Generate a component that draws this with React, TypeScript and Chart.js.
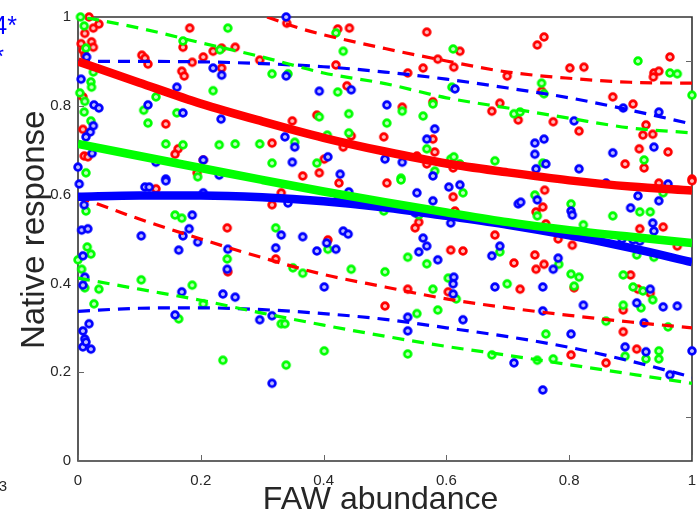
import React, { useEffect, useRef } from 'react';
import { Chart, registerables } from 'chart.js';

Chart.register(...registerables);

// ---------- axes ----------
const xTicks = [0, 0.2, 0.4, 0.6, 0.8, 1];
const xTickLabels = ['0', '0.2', '0.4', '0.6', '0.8', '1'];
const yTicks = [0, 0.2, 0.4, 0.6, 0.8, 1];
const yTickLabels = ['0', '0.2', '0.4', '0.6', '0.8', '1'];
const rightAxisTicks = [0.1, 0.9];
const xTitle = 'FAW abundance';
const yTitle = 'Native response';
const cutTextTop = ['4*', '*'];
const cutTextBottom = '3';

// ---------- fitted curves ----------
const fitX = [0, 0.1, 0.2, 0.3, 0.4, 0.5, 0.6, 0.7, 0.8, 0.9, 1];
const redFit = [0.9, 0.852, 0.805, 0.765, 0.728, 0.697, 0.67, 0.65, 0.632, 0.618, 0.609];
const greenFit = [0.714, 0.687, 0.66, 0.633, 0.607, 0.583, 0.56, 0.538, 0.52, 0.505, 0.491];
const blueFit = [0.595, 0.598, 0.598, 0.594, 0.585, 0.571, 0.552, 0.532, 0.508, 0.48, 0.448];

const redUpperX = [0.308, 0.36, 0.4, 0.5, 0.6, 0.7, 0.8, 0.9, 1];
const redUpper = [1.0, 0.975, 0.96, 0.929, 0.901, 0.876, 0.862, 0.853, 0.851];
const redLower = [0.595, 0.545, 0.5, 0.458, 0.42, 0.392, 0.365, 0.345, 0.328, 0.313, 0.3];

const greenUpperX = [0.015, 0.1, 0.2, 0.3, 0.4, 0.5, 0.6, 0.7, 0.8, 0.9, 1];
const greenUpper = [0.998, 0.975, 0.942, 0.91, 0.874, 0.85, 0.818, 0.795, 0.772, 0.75, 0.739];
const greenLower = [0.412, 0.387, 0.362, 0.333, 0.306, 0.281, 0.258, 0.238, 0.217, 0.196, 0.175];

const blueUpper = [0.9, 0.9, 0.899, 0.895, 0.888, 0.876, 0.86, 0.84, 0.818, 0.79, 0.759];
const blueLower = [0.337, 0.344, 0.345, 0.341, 0.332, 0.319, 0.3, 0.28, 0.256, 0.225, 0.189];

// ---------- observations [x, y] ----------
const redPoints: [number, number][] = [
  [0.018, 1.0], [0.025, 0.975], [0.034, 0.984], [0.011, 0.963], [0.005, 0.94], [0.022, 0.944],
  [0.008, 0.925], [0.025, 0.932], [0.011, 0.914], [0.008, 0.82], [0.008, 0.747], [0.01, 0.687],
  [0.016, 0.685], [0.104, 0.914], [0.109, 0.907], [0.114, 0.894], [0.182, 0.975], [0.171, 0.932],
  [0.22, 0.923], [0.234, 0.93], [0.256, 0.932], [0.204, 0.91], [0.186, 0.898], [0.169, 0.878],
  [0.173, 0.867], [0.234, 0.885], [0.296, 0.903], [0.34, 0.986], [0.143, 0.759], [0.349, 0.766],
  [0.163, 0.703], [0.158, 0.691], [0.316, 0.716], [0.204, 0.678], [0.194, 0.649],
  [0.423, 0.973], [0.442, 0.975], [0.568, 0.966], [0.622, 0.923], [0.586, 0.905], [0.562, 0.885],
  [0.612, 0.887], [0.42, 0.892], [0.537, 0.874], [0.438, 0.845], [0.528, 0.797], [0.578, 0.809],
  [0.687, 0.806], [0.674, 0.788], [0.389, 0.779], [0.445, 0.732], [0.498, 0.73], [0.578, 0.725],
  [0.581, 0.696], [0.432, 0.707], [0.401, 0.68], [0.552, 0.687], [0.611, 0.66], [0.568, 0.669],
  [0.366, 0.642], [0.393, 0.649],
  [0.748, 0.937], [0.759, 0.955], [0.801, 0.885], [0.824, 0.887], [0.699, 0.867], [0.964, 0.91],
  [0.938, 0.874], [0.946, 0.878], [0.937, 0.865], [0.755, 0.833], [0.871, 0.82], [0.904, 0.804],
  [0.717, 0.768], [0.774, 0.764], [0.816, 0.743], [0.925, 0.757], [0.92, 0.734], [0.936, 0.736],
  [0.914, 0.703], [0.961, 0.696], [0.891, 0.669], [0.922, 0.66], [1.0, 0.635],
  [0.127, 0.613], [0.331, 0.604], [0.316, 0.577], [0.243, 0.525], [0.322, 0.455], [0.244, 0.426],
  [0.425, 0.626], [0.503, 0.626], [0.611, 0.595], [0.555, 0.538], [0.549, 0.525], [0.614, 0.563],
  [0.407, 0.498], [0.607, 0.475], [0.627, 0.473], [0.679, 0.509], [0.537, 0.387], [0.603, 0.381],
  [0.5, 0.349],
  [0.76, 0.61], [0.946, 0.626], [1.0, 0.631], [0.757, 0.572], [0.746, 0.561], [0.915, 0.523],
  [0.953, 0.527], [0.762, 0.534], [0.782, 0.5], [0.805, 0.486], [0.976, 0.484], [0.744, 0.464],
  [0.71, 0.446], [0.759, 0.443], [0.746, 0.432], [0.9, 0.419], [0.72, 0.387], [0.808, 0.39],
  [0.912, 0.387], [0.932, 0.378], [0.888, 0.34], [0.888, 0.291],
  [0.91, 0.252], [0.803, 0.239], [0.86, 0.221],
];

const greenPoints: [number, number][] = [
  [0.004, 1.0], [0.01, 0.98], [0.013, 0.93], [0.025, 0.876], [0.021, 0.854], [0.022, 0.842],
  [0.003, 0.829], [0.011, 0.81], [0.01, 0.786], [0.021, 0.766], [0.013, 0.649], [0.171, 0.946],
  [0.244, 0.975], [0.231, 0.926], [0.316, 0.872], [0.342, 0.872], [0.22, 0.834], [0.127, 0.82],
  [0.107, 0.79], [0.161, 0.784], [0.114, 0.761], [0.353, 0.718], [0.143, 0.714], [0.171, 0.712],
  [0.23, 0.712], [0.256, 0.714], [0.296, 0.714], [0.316, 0.671], [0.195, 0.64],
  [0.42, 0.964], [0.432, 0.923], [0.611, 0.928], [0.423, 0.831], [0.528, 0.788], [0.578, 0.804],
  [0.609, 0.842], [0.393, 0.775], [0.441, 0.782], [0.562, 0.777], [0.503, 0.761], [0.406, 0.734],
  [0.441, 0.739], [0.568, 0.703], [0.389, 0.671], [0.607, 0.68], [0.612, 0.685], [0.622, 0.669],
  [0.679, 0.676], [0.581, 0.653], [0.526, 0.637],
  [0.912, 0.901], [0.964, 0.874], [0.976, 0.872], [0.755, 0.851], [0.759, 0.827], [1.0, 0.824],
  [0.71, 0.782], [0.72, 0.786], [0.757, 0.671], [0.922, 0.678],
  [0.013, 0.563], [0.158, 0.554], [0.169, 0.547], [0.322, 0.525], [0.243, 0.455], [0.35, 0.435],
  [0.015, 0.482], [0.021, 0.466], [0.0, 0.453], [0.006, 0.432], [0.011, 0.39], [0.034, 0.387],
  [0.103, 0.408], [0.186, 0.396], [0.026, 0.354], [0.204, 0.354], [0.164, 0.32], [0.331, 0.309],
  [0.337, 0.309], [0.236, 0.227], [0.339, 0.216],
  [0.526, 0.633], [0.627, 0.604], [0.438, 0.592], [0.498, 0.563], [0.555, 0.554], [0.407, 0.477],
  [0.537, 0.459], [0.568, 0.444], [0.687, 0.471], [0.445, 0.432], [0.366, 0.423], [0.5, 0.426],
  [0.578, 0.387], [0.603, 0.412], [0.616, 0.365], [0.586, 0.34], [0.552, 0.332],
  [0.401, 0.248], [0.537, 0.241], [0.674, 0.239],
  [0.953, 0.604], [0.744, 0.599], [0.748, 0.552], [0.803, 0.579], [0.871, 0.552], [0.915, 0.561],
  [0.932, 0.561], [0.823, 0.532], [0.91, 0.464], [0.938, 0.459], [0.783, 0.443], [0.803, 0.421],
  [0.816, 0.414], [0.888, 0.419], [0.699, 0.399], [0.808, 0.394], [0.904, 0.392], [0.92, 0.383],
  [0.936, 0.363], [0.888, 0.351], [0.917, 0.345], [0.86, 0.315], [0.961, 0.302], [0.762, 0.286],
  [0.946, 0.248], [0.946, 0.23], [0.925, 0.23], [0.891, 0.236], [0.748, 0.227], [0.774, 0.23],
];

const bluePoints: [number, number][] = [
  [0.014, 0.91], [0.005, 0.86], [0.026, 0.802], [0.034, 0.795], [0.025, 0.755], [0.02, 0.741],
  [0.013, 0.73], [0.023, 0.693], [0.0, 0.662], [0.22, 0.885], [0.234, 0.869], [0.339, 0.867],
  [0.339, 1.0], [0.161, 0.842], [0.114, 0.802], [0.171, 0.784], [0.233, 0.77], [0.337, 0.73],
  [0.353, 0.707], [0.349, 0.673], [0.204, 0.678], [0.127, 0.673], [0.23, 0.644], [0.143, 0.635],
  [0.393, 0.833], [0.445, 0.836], [0.503, 0.802], [0.614, 0.838], [0.581, 0.748], [0.568, 0.725],
  [0.407, 0.685], [0.5, 0.68], [0.528, 0.673], [0.427, 0.646], [0.578, 0.642],
  [0.888, 0.795], [0.946, 0.786], [0.808, 0.766], [0.744, 0.716], [0.759, 0.725], [0.744, 0.691],
  [0.938, 0.707], [0.871, 0.694], [0.762, 0.669], [0.746, 0.658], [0.816, 0.658],
  [0.002, 0.624], [0.109, 0.617], [0.116, 0.617], [0.143, 0.631], [0.204, 0.604], [0.342, 0.581],
  [0.01, 0.577], [0.006, 0.52], [0.016, 0.523], [0.186, 0.554], [0.181, 0.523], [0.171, 0.507],
  [0.103, 0.507], [0.195, 0.493], [0.164, 0.475], [0.331, 0.509], [0.322, 0.48], [0.244, 0.477],
  [0.243, 0.432], [0.008, 0.462], [0.011, 0.414], [0.008, 0.396], [0.169, 0.381], [0.236, 0.376],
  [0.256, 0.369], [0.158, 0.329], [0.296, 0.318], [0.316, 0.327], [0.018, 0.309], [0.008, 0.293],
  [0.011, 0.275], [0.008, 0.257], [0.013, 0.268], [0.021, 0.252], [0.316, 0.175],
  [0.441, 0.606], [0.552, 0.604], [0.604, 0.617], [0.622, 0.622], [0.578, 0.586], [0.422, 0.586],
  [0.549, 0.559], [0.607, 0.536], [0.366, 0.505], [0.432, 0.518], [0.44, 0.511], [0.405, 0.491],
  [0.389, 0.473], [0.42, 0.477], [0.562, 0.502], [0.568, 0.484], [0.555, 0.471], [0.586, 0.453],
  [0.687, 0.484], [0.674, 0.462], [0.401, 0.392], [0.612, 0.414], [0.611, 0.399], [0.611, 0.376],
  [0.679, 0.392], [0.537, 0.324], [0.627, 0.318], [0.537, 0.293],
  [0.86, 0.626], [0.961, 0.624], [0.912, 0.597], [0.946, 0.586], [0.748, 0.588], [0.717, 0.579],
  [0.721, 0.583], [0.803, 0.563], [0.805, 0.554], [0.9, 0.57], [0.936, 0.536], [0.938, 0.518],
  [0.886, 0.5], [0.904, 0.498], [0.915, 0.495], [0.782, 0.457], [0.774, 0.432], [0.757, 0.392],
  [0.932, 0.387], [0.91, 0.356], [0.823, 0.351], [0.953, 0.347], [0.976, 0.349], [0.757, 0.338],
  [0.922, 0.311], [0.803, 0.286],
  [0.891, 0.257], [0.925, 0.246], [1.0, 0.248], [0.71, 0.221], [0.964, 0.194], [0.757, 0.16],
];

const RED = '#ff0000';
const GREEN = '#00ff00';
const BLUE = '#0000ff';
const AXIS_TEXT = '#262626';
const FONT_FAMILY = 'Arial, "Liberation Sans", Helvetica, sans-serif';

function makeMarker(color: string): HTMLCanvasElement {
  const c = document.createElement('canvas');
  c.width = 12;
  c.height = 12;
  const g = c.getContext('2d')!;
  g.beginPath();
  g.arc(6, 6, 3.3, 0, Math.PI * 2);
  g.fillStyle = '#ffffff';
  g.fill();
  g.lineWidth = 2.9;
  g.strokeStyle = color;
  g.stroke();
  g.fillStyle = color;
  g.fillRect(5.5, 5.5, 1, 1);
  return c;
}

const pairs = (xs: number[], ys: number[]) => xs.map((x, i) => ({ x, y: ys[i] }));
const toXY = (pts: [number, number][]) => pts.map(([x, y]) => ({ x, y }));

const framePlugin = {
  id: 'matlabFrame',
  beforeDatasetsDraw(chart: any) {
    const { ctx, chartArea } = chart;
    const { left, right, top, bottom } = chartArea;
    const xs = chart.scales.x;
    const ys = chart.scales.y;
    ctx.save();
    ctx.strokeStyle = '#333333';
    ctx.lineWidth = 1.6;
    ctx.beginPath();
    ctx.moveTo(left, top);
    ctx.lineTo(right, top);
    ctx.lineTo(right, bottom);
    ctx.lineTo(left, bottom);
    ctx.closePath();
    ctx.stroke();
    ctx.strokeStyle = '#666666';
    ctx.lineWidth = 1;
    ctx.beginPath();
    xTicks.forEach((v) => {
      const px = Math.round(xs.getPixelForValue(v)) + 0.5;
      ctx.moveTo(px, bottom);
      ctx.lineTo(px, bottom - 6);
    });
    yTicks.forEach((v) => {
      const py = Math.round(ys.getPixelForValue(v)) + 0.5;
      ctx.moveTo(left, py);
      ctx.lineTo(left + 6, py);
    });
    rightAxisTicks.forEach((v) => {
      const py = Math.round(ys.getPixelForValue(v)) + 0.5;
      ctx.moveTo(right, py);
      ctx.lineTo(right - 6, py);
    });
    ctx.stroke();
    ctx.restore();
  },
  afterDraw(chart: any) {
    const { ctx } = chart;
    ctx.save();
    ctx.font = `25px ${FONT_FAMILY}`;
    ctx.fillStyle = BLUE;
    ctx.textAlign = 'right';
    ctx.textBaseline = 'alphabetic';
    ctx.fillText(cutTextTop[0], 17, 34);
    ctx.fillText(cutTextTop[1], 4, 65);
    ctx.font = `15px ${FONT_FAMILY}`;
    ctx.fillStyle = AXIS_TEXT;
    ctx.fillText(cutTextBottom, 7, 491);
    ctx.restore();
  },
};

export default function App() {
  const ref = useRef<HTMLCanvasElement | null>(null);

  useEffect(() => {
    document.body.style.margin = '0';
    const canvas = ref.current;
    if (!canvas) return;

    const solid = (label: string, ys: number[], color: string) => ({
      label,
      data: pairs(fitX, ys),
      showLine: true,
      borderColor: color,
      backgroundColor: color,
      borderWidth: 8.5,
      pointRadius: 0,
      cubicInterpolationMode: 'monotone' as const,
      order: 0,
    });
    const dashed = (label: string, xs: number[], ys: number[], color: string) => ({
      label,
      data: pairs(xs, ys),
      showLine: true,
      borderColor: color,
      backgroundColor: color,
      borderWidth: 3.2,
      borderDash: [12, 8],
      borderCapStyle: 'butt' as const,
      pointRadius: 0,
      cubicInterpolationMode: 'monotone' as const,
      order: 0,
    });
    const scatter = (label: string, pts: [number, number][], color: string, order: number) => ({
      label,
      data: toXY(pts),
      showLine: false,
      pointStyle: makeMarker(color),
      pointRadius: 5,
      pointHoverRadius: 5,
      borderColor: color,
      backgroundColor: '#ffffff',
      clip: false as const,
      order,
    });

    const tickFont = { family: FONT_FAMILY, size: 15 };

    const chart = new Chart(canvas, {
      type: 'scatter',
      data: {
        datasets: [
          solid('Red fit', redFit, RED),
          solid('Green fit', greenFit, GREEN),
          solid('Blue fit', blueFit, BLUE),
          dashed('Red upper', redUpperX, redUpper, RED),
          dashed('Red lower', fitX, redLower, RED),
          dashed('Green upper', greenUpperX, greenUpper, GREEN),
          dashed('Green lower', fitX, greenLower, GREEN),
          dashed('Blue upper', fitX, blueUpper, BLUE),
          dashed('Blue lower', fitX, blueLower, BLUE),
          scatter('Blue', bluePoints, BLUE, 1),
          scatter('Green', greenPoints, GREEN, 2),
          scatter('Red', redPoints, RED, 3),
        ] as any,
      },
      options: {
        responsive: false,
        animation: false,
        events: [],
        layout: { autoPadding: false, padding: { left: 0, right: 6, top: 17, bottom: 0 } },
        plugins: {
          legend: { display: false },
          tooltip: { enabled: false },
        },
        scales: {
          x: {
            type: 'linear',
            min: 0,
            max: 1,
            afterBuildTicks: (s: any) => {
              s.ticks = xTicks.map((v) => ({ value: v }));
            },
            afterFit: (s: any) => {
              s.height = 55;
              s.paddingLeft = 0;
              s.paddingRight = 0;
            },
            ticks: {
              callback: (_v: any, i: number) => xTickLabels[i],
              font: tickFont,
              color: AXIS_TEXT,
              padding: 11,
              maxRotation: 0,
              autoSkip: false,
            },
            grid: { display: false, drawTicks: false },
            border: { display: false },
            title: {
              display: true,
              text: xTitle + ' ',
              color: AXIS_TEXT,
              font: { family: FONT_FAMILY, size: 32, lineHeight: 1 },
              padding: { top: 0, bottom: 0 },
            },
          },
          y: {
            type: 'linear',
            min: 0,
            max: 1,
            afterBuildTicks: (s: any) => {
              s.ticks = yTicks.map((v) => ({ value: v }));
            },
            afterFit: (s: any) => {
              s.width = 78;
              s.paddingTop = 0;
              s.paddingBottom = 0;
            },
            ticks: {
              callback: (_v: any, i: number) => yTickLabels[i],
              font: tickFont,
              color: AXIS_TEXT,
              padding: 7,
              autoSkip: false,
            },
            grid: { display: false, drawTicks: false },
            border: { display: false },
            title: {
              display: true,
              text: '  ' + yTitle,
              color: AXIS_TEXT,
              font: { family: FONT_FAMILY, size: 33, lineHeight: 1.2 },
              padding: { top: 15, bottom: 0 },
            },
          },
        },
      },
      plugins: [framePlugin],
    });

    return () => {
      chart.destroy();
    };
  }, []);

  return <canvas ref={ref} width={698} height={516} style={{ display: 'block' }} />;
}
